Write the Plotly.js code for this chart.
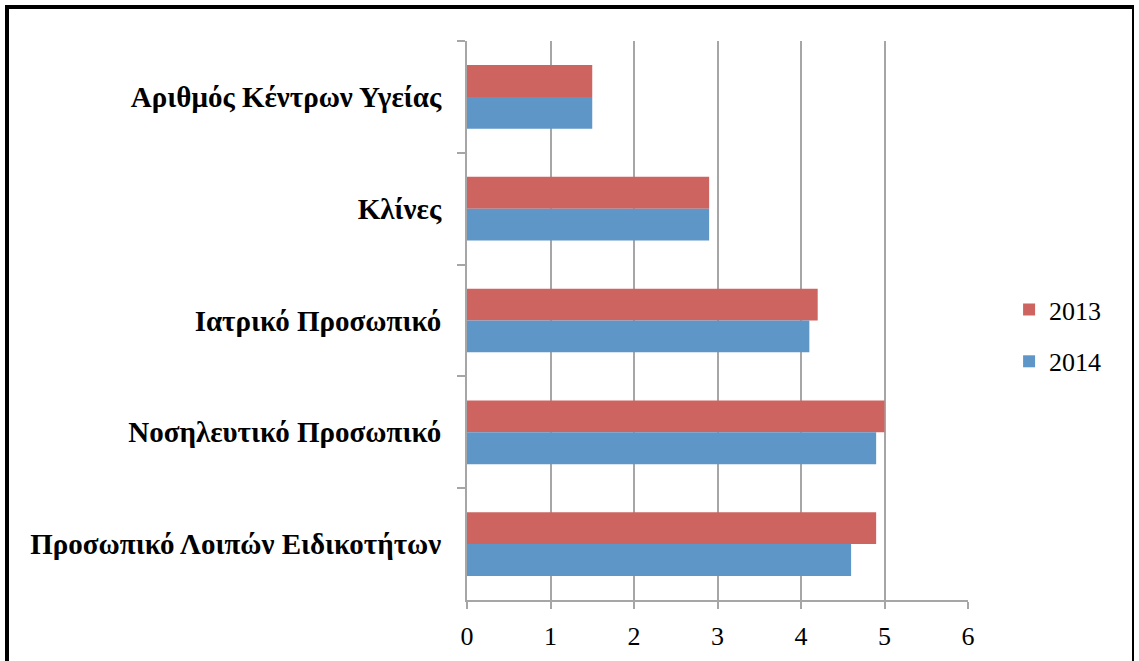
<!DOCTYPE html>
<html>
<head>
<meta charset="utf-8">
<script src="https://cdn.plot.ly/plotly-3.0.1.min.js"></script>
<style>
html,body{margin:0;padding:0;background:#fff;}
#frame{position:absolute;left:5px;top:5px;width:1129px;height:700px;border-top:4px solid #000;border-left:4px solid #000;border-right:2px solid #000;box-sizing:border-box;pointer-events:none;z-index:10;}
#chart{position:absolute;left:0;top:0;width:1139px;height:661px;}
</style>
</head>
<body>
<div id="chart"></div>
<div id="frame"></div>
<script>
const categories = ["Αριθμός Κέντρων Υγείας", "Κλίνες", "Ιατρικό Προσωπικό", "Νοσηλευτικό Προσωπικό", "Προσωπικό Λοιπών Ειδικοτήτων"];
const values2013 = [1.5, 2.9, 4.2, 5.0, 4.9];
const values2014 = [1.5, 2.9, 4.1, 4.9, 4.6];
const seriesNames = ["2013", "2014"];
const xTicks = [0, 1, 2, 3, 4, 5, 6];

const traces = [
  {type: 'bar', orientation: 'h', name: seriesNames[0], y: categories, x: values2013,
   marker: {color: '#CD6460'}, legendgroup: 'a', hoverinfo: 'x+name'},
  {type: 'bar', orientation: 'h', name: seriesNames[1], y: categories, x: values2014,
   marker: {color: '#5F96C8'}, legendgroup: 'b', hoverinfo: 'x+name'}
];

const layout = {
  width: 1139, height: 661,
  margin: {l: 467, r: 171, t: 41, b: 61, pad: 0},
  paper_bgcolor: '#fff', plot_bgcolor: '#fff',
  barmode: 'group', bargap: 0.43, bargroupgap: 0,
  showlegend: true,
  legend: {x: 1.082, xanchor: 'left', y: 0.473, yanchor: 'middle',
           traceorder: 'grouped', tracegroupgap: 15,
           font: {family: 'Liberation Serif, serif', size: 26, color: '#000'},
           bgcolor: 'rgba(0,0,0,0)', itemwidth: 30},
  xaxis: {range: [0, 6], tickvals: xTicks, ticktext: xTicks.map(String),
          showgrid: true, gridcolor: '#a6a6a6', gridwidth: 2,
          showline: true, linecolor: '#a6a6a6', linewidth: 2,
          ticks: 'outside', ticklen: 7, tickcolor: '#a6a6a6', tickwidth: 2,
          ticklabelstandoff: 5,
          zeroline: false, fixedrange: true,
          tickfont: {family: 'Liberation Serif, serif', size: 26, color: '#000'}},
  yaxis: {type: 'category', autorange: 'reversed',
          showgrid: false, showline: true, linecolor: '#a6a6a6', linewidth: 2,
          ticks: 'outside', ticklen: 8, tickcolor: '#a6a6a6', tickwidth: 2,
          tickson: 'boundaries', ticklabelstandoff: 18, fixedrange: true,
          tickfont: {family: 'Liberation Serif, serif', size: 29, color: '#000', weight: 'bold'}}
};

Plotly.newPlot('chart', traces, layout, {displayModeBar: false, staticPlot: true});
</script>
</body>
</html>
